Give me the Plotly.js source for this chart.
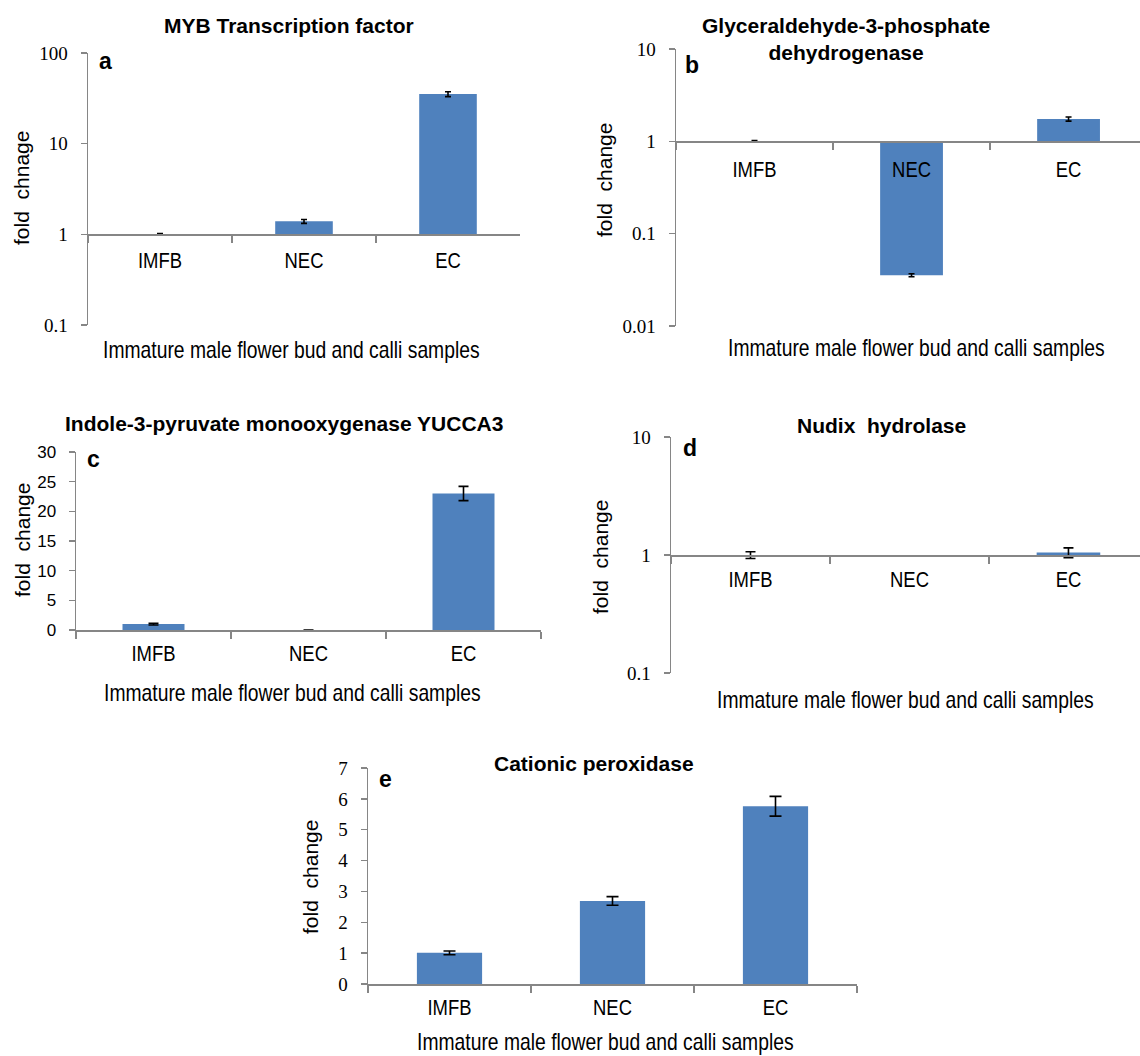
<!DOCTYPE html>
<html><head><meta charset="utf-8">
<script src="https://cdn.plot.ly/plotly-3.0.1.min.js"></script>
<style>html,body{margin:0;padding:0;background:#fff}</style>
</head><body>
<div id="chart" style="width:1140px;height:1056px"></div>
<script>
// ---------- data ----------
const categories = ["IMFB", "NEC", "EC"];

// a: MYB Transcription factor (log axis, baseline 1)
const mybValues = [1.0, 1.39, 35.2];
const mybErrors = [0.02, 0.07, 2.2];

// b: Glyceraldehyde-3-phosphate dehydrogenase (log axis, baseline 1)
const gapdhValues = [1.0, 0.0355, 1.745];
const gapdhErrors = [0.02, 0.0013, 0.09];

// c: Indole-3-pyruvate monooxygenase YUCCA3 (linear)
const yuccaValues = [1.0, 0, 23.0];
const yuccaErrors = [0.15, 0, 1.2];

// d: Nudix hydrolase (log axis, baseline 1)
const nudixValues = [1.0, null, 1.05];
const nudixErrors = [0.065, null, 0.1];

// e: Cationic peroxidase (linear)
const peroxValues = [1.01, 2.69, 5.76];
const peroxErrors = [0.06, 0.14, 0.32];

const ticksA = [0.1, 1, 10, 100];
const ticksB = [0.01, 0.1, 1, 10];
const ticksC = [0, 5, 10, 15, 20, 25, 30];
const ticksD = [0.1, 1, 10];
const ticksE = [0, 1, 2, 3, 4, 5, 6, 7];

const titles = {
  a: "MYB Transcription factor",
  b: "Glyceraldehyde-3-phosphate<br>dehydrogenase",
  c: "Indole-3-pyruvate monooxygenase YUCCA3",
  d: "Nudix  hydrolase",
  e: "Cationic peroxidase"
};
const yTitles = { a: "fold  chnage", b: "fold  change", c: "fold  change", d: "fold  change", e: "fold  change" };
const xTitle = "Immature male flower bud and calli samples";

// ---------- layout helpers ----------
const W = 1140, H = 1056;
const fx = p => p / W;
const fy = p => 1 - p / H;

const BAR = '#4F81BD';
const AXIS = '#868686';
const SANS = "'Liberation Sans', Arial, sans-serif";
const SERIF = "'Liberation Serif', 'Times New Roman', serif";
const NARROW_SCALE = 0.84;   // emulate the condensed face of the original labels

const panels = [
  { key:'a', values:mybValues, errors:mybErrors, log:true, ticks:ticksA,
    xpx:[88,520], ypx:[53,325], xr:[-0.5,2.5], capw:3, tickFont:SERIF, xstand:6,
    title:[289,25], letter:[105,61], ytitle:[22,188], xtitle:[291,350] },
  { key:'b', values:gapdhValues, errors:gapdhErrors, log:true, ticks:ticksB,
    xpx:[676,1140], ypx:[49,326], xr:[-0.5,2.455], capw:3, tickFont:SERIF, xstand:8,
    title:[846,39], letter:[692,65], ytitle:[605,180], xtitle:[917,348] },
  { key:'c', values:yuccaValues, errors:yuccaErrors, log:false, ticks:ticksC,
    xpx:[76,541], ypx:[452,630], xr:[-0.5,2.5], capw:5, tickFont:SANS, xstand:3,
    title:[284,423], letter:[93,459], ytitle:[22,540], xtitle:[292,693] },
  { key:'d', values:nudixValues, errors:nudixErrors, log:true, ticks:ticksD,
    xpx:[671,1140], ypx:[437,673], xr:[-0.5,2.45], capw:5, tickFont:SERIF, xstand:4,
    title:[881,425], letter:[690,448], ytitle:[600,557], xtitle:[905,700] },
  { key:'e', values:peroxValues, errors:peroxErrors, log:false, ticks:ticksE,
    xpx:[368,857], ypx:[768,984], xr:[-0.5,2.5], capw:6, tickFont:SERIF, xstand:3,
    title:[594,763], letter:[385,779], ytitle:[310,877], xtitle:[605,1042] }
];

const data = [];
const layout = {
  width: W, height: H,
  margin: {l:0, r:0, t:0, b:0},
  paper_bgcolor: '#fff', plot_bgcolor: 'rgba(0,0,0,0)',
  showlegend: false,
  bargap: 0.6,
  hovermode: false,
  annotations: []
};

panels.forEach((p, i) => {
  const n = i + 1;
  const xa = n === 1 ? 'x' : 'x' + n;
  const ya = n === 1 ? 'y' : 'y' + n;
  const xName = n === 1 ? 'xaxis' : 'xaxis' + n;
  const yName = n === 1 ? 'yaxis' : 'yaxis' + n;

  const baseline = p.log ? 1 : 0;
  const trace = {
    type: 'bar', x: categories,
    y: p.values.map(v => v == null ? null : v - baseline),
    marker: { color: BAR },
    error_y: { type:'data', array: p.errors, visible:true, color:'#000', thickness:1.6, width:p.capw },
    xaxis: xa, yaxis: ya
  };
  if (p.log) trace.base = baseline;
  data.push(trace);

  const yDom = [fy(p.ypx[1]), fy(p.ypx[0])];
  const yRange = p.log
    ? [Math.log10(p.ticks[0]), Math.log10(p.ticks[p.ticks.length - 1])]
    : [p.ticks[0], p.ticks[p.ticks.length - 1]];

  const xaxis = {
    domain: [fx(p.xpx[0]), fx(p.xpx[1])],
    type: 'category', categoryorder: 'array', categoryarray: categories,
    range: p.xr, fixedrange: true,
    showline: true, linecolor: AXIS, linewidth: 1.5,
    ticks: 'outside', tickson: 'boundaries', ticklen: 7, tickcolor: AXIS, tickwidth: 1.5,
    showgrid: false, zeroline: false,
    tickfont: { family: SANS, size: 22, color: '#000' },
    ticklabelstandoff: p.xstand
  };
  if (p.log) {
    const frac = (Math.log10(baseline) - yRange[0]) / (yRange[1] - yRange[0]);
    xaxis.anchor = 'free';
    xaxis.position = yDom[0] + frac * (yDom[1] - yDom[0]);
  } else {
    xaxis.anchor = ya;
  }
  layout[xName] = xaxis;

  const yaxis = {
    domain: yDom, anchor: xa,
    type: p.log ? 'log' : 'linear',
    range: yRange, fixedrange: true,
    showline: true, linecolor: AXIS, linewidth: 1.5,
    ticks: 'outside', ticklen: 6, tickcolor: AXIS, tickwidth: 1.5,
    tickmode: 'array', tickvals: p.ticks, ticktext: p.ticks.map(String),
    showgrid: false, zeroline: false,
    tickfont: { family: p.tickFont, size: p.tickFont === SERIF ? 19 : 17, color: '#000' },
    ticklabelstandoff: 9
  };
  if (p.log) yaxis.dtick = 1;
  layout[yName] = yaxis;

  const ann = (txt, pos, opts) => Object.assign({
    text: txt, xref:'paper', yref:'paper', x: fx(pos[0]), y: fy(pos[1]),
    xanchor:'center', yanchor:'middle', showarrow:false
  }, opts);

  layout.annotations.push(ann('<b>' + titles[p.key] + '</b>', p.title,
    { font: { family: SANS, size: 21, color:'#000' } }));
  layout.annotations.push(ann('<b>' + p.key + '</b>', p.letter,
    { font: { family: SANS, size: 23, color:'#000' } }));
  layout.annotations.push(ann(yTitles[p.key], p.ytitle,
    { textangle: -90, font: { family: SANS, size: 21, color:'#000' } }));
  layout.annotations.push(ann(xTitle, p.xtitle,
    { font: { family: SANS, size: 23, color:'#000' } }));
});

// horizontally condense a text element about its own centre,
// keeping whatever transform Plotly already gave it
function condense(el) {
  const bb = el.getBBox();
  const cx = bb.x + bb.width / 2, cy = bb.y + bb.height / 2;
  const prev = el.getAttribute('transform') || '';
  el.setAttribute('transform',
    prev + ' translate(' + cx + ',' + cy + ') scale(' + NARROW_SCALE + ',1) translate(' + (-cx) + ',' + (-cy) + ')');
}

Plotly.newPlot('chart', data, layout, { displayModeBar: false, staticPlot: true }).then(gd => {
  gd.querySelectorAll('g.xaxislayer-above text').forEach(condense);
  gd.querySelectorAll('.annotation-text').forEach(t => {
    if (t.textContent === xTitle) condense(t);
  });
});
</script>
</body></html>
